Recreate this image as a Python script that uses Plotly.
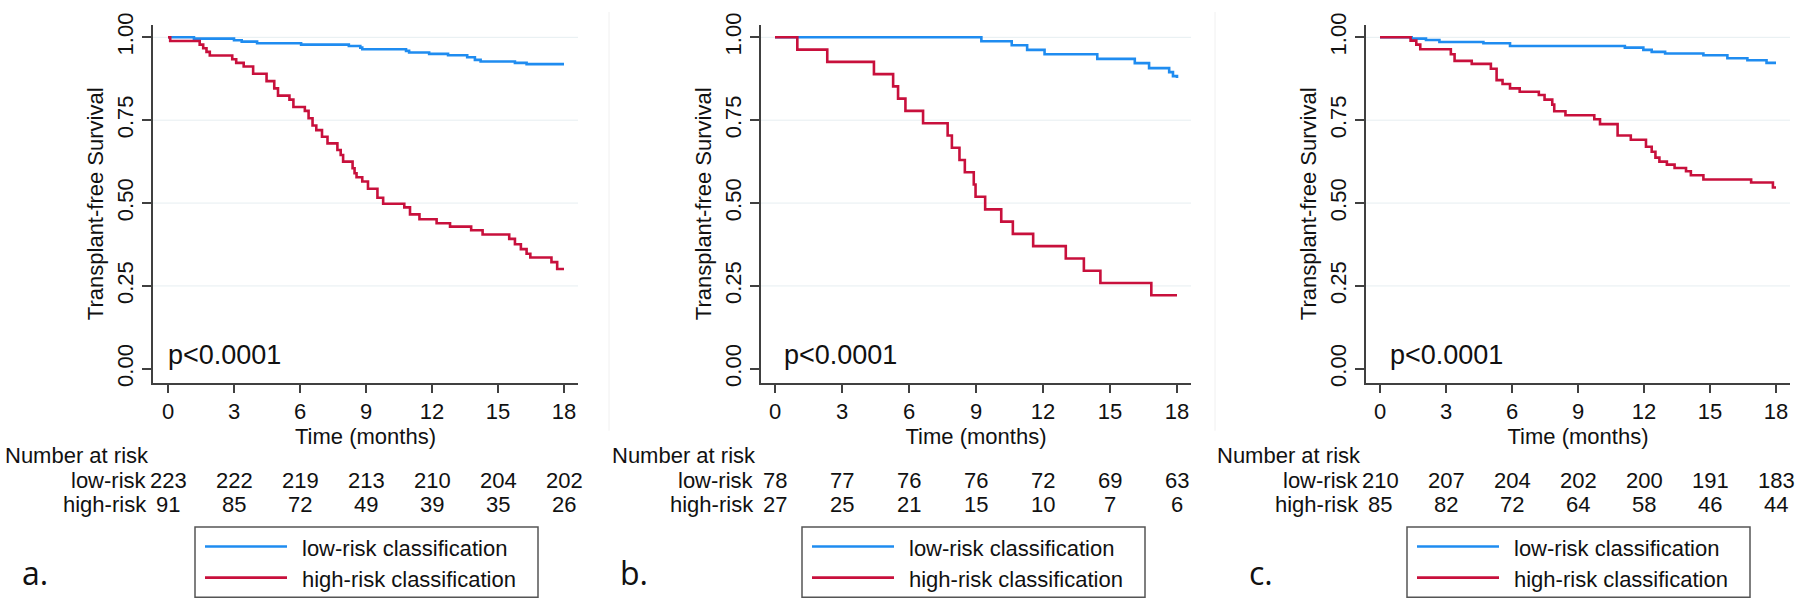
import plotly.graph_objects as go

# ---------------- data ----------------
time_ticks = [0, 3, 6, 9, 12, 15, 18]
y_ticks = [0, 0.25, 0.5, 0.75, 1.0]
y_tick_labels = ["0.00", "0.25", "0.50", "0.75", "1.00"]
grid_vals = [0.25, 0.5, 0.75, 1.0]

panel_letters = ["a.", "b.", "c."]
group_labels = ["low-risk", "high-risk"]
legend_labels = ["low-risk classification", "high-risk classification"]
p_value_text = "p<0.0001"
x_title = "Time (months)"
y_title = "Transplant-free Survival"
risk_title = "Number at risk"

# panel a
a_low_time = [0, 1.18, 3.0, 3.35, 4.05, 6.05, 8.22, 8.74, 8.83, 10.82, 10.96, 11.87, 12.73, 13.6, 13.95, 14.21, 15.77, 16.3, 18.0]
a_low_surv = [1.0, 0.996, 0.991, 0.987, 0.982, 0.978, 0.974, 0.969, 0.964, 0.959, 0.954, 0.950, 0.946, 0.940, 0.932, 0.927, 0.923, 0.919, 0.919]
a_high_time = [0, 0.1, 1.44, 1.6, 1.75, 1.9, 2.92, 3.1, 3.44, 3.87, 4.48, 4.83, 5.0, 5.52, 5.7, 6.22, 6.39, 6.57, 6.74, 7.0, 7.25, 7.7, 7.85,
               7.96, 8.39, 8.48, 8.57, 8.83, 9.09, 9.52, 9.78, 10.74, 11.0, 11.43, 12.21, 12.82, 13.78, 14.3, 15.51, 15.77, 16.04, 16.3,
               16.47, 17.43, 17.69, 18.0]
a_high_surv = [1.0, 0.989, 0.978, 0.967, 0.956, 0.945, 0.934, 0.923, 0.912, 0.890, 0.868, 0.846, 0.824, 0.812, 0.790, 0.778, 0.756,
               0.734, 0.720, 0.700, 0.680, 0.660, 0.645, 0.625, 0.605, 0.590, 0.578, 0.565, 0.543, 0.516, 0.498, 0.487, 0.466, 0.451,
               0.439, 0.429, 0.418, 0.405, 0.392, 0.376, 0.361, 0.347, 0.336, 0.322, 0.301, 0.301]
a_low_at_risk = [223, 222, 219, 213, 210, 204, 202]
a_high_at_risk = [91, 85, 72, 49, 39, 35, 26]

# panel b
b_low_time = [0, 9.24, 10.6, 11.29, 12.07, 14.43, 16.11, 16.75, 17.65, 17.82, 18.0]
b_low_surv = [1.0, 0.988, 0.976, 0.962, 0.949, 0.935, 0.922, 0.907, 0.895, 0.883, 0.877]
b_high_time = [0, 1.0, 2.34, 4.43, 5.29, 5.51, 5.84, 6.63, 7.73, 7.92, 8.26, 8.5, 8.9, 8.98, 9.41, 10.13, 10.65, 11.56, 13.02, 13.83,
               14.57, 16.85, 18.0]
b_high_surv = [1.0, 0.963, 0.926, 0.889, 0.852, 0.815, 0.778, 0.741, 0.704, 0.667, 0.630, 0.593, 0.556, 0.519, 0.481, 0.444, 0.407,
               0.370, 0.333, 0.296, 0.259, 0.222, 0.222]
b_low_at_risk = [78, 77, 76, 76, 72, 69, 63]
b_high_at_risk = [27, 25, 21, 15, 10, 7, 6]

# panel c
c_low_time = [0, 1.44, 2.09, 2.7, 4.7, 5.91, 11.13, 11.97, 12.35, 12.96, 14.7, 15.79, 16.7, 17.57, 18.0]
c_low_surv = [1.0, 0.996, 0.992, 0.986, 0.982, 0.974, 0.969, 0.962, 0.956, 0.951, 0.946, 0.937, 0.931, 0.923, 0.923]
c_high_time = [0, 1.39, 1.65, 1.83, 3.22, 3.39, 4.17, 5.04, 5.3, 5.57, 5.91, 6.35, 7.22, 7.48, 7.83, 7.92, 8.43, 9.74, 10.0, 10.8,
               11.4, 12.09, 12.35, 12.52, 12.7, 13.04, 13.39, 13.91, 14.13, 14.7, 16.87, 17.86, 18.0]
c_high_surv = [1.0, 0.990, 0.978, 0.964, 0.949, 0.929, 0.920, 0.905, 0.871, 0.859, 0.846, 0.836, 0.826, 0.812, 0.797, 0.777, 0.765,
               0.753, 0.738, 0.704, 0.691, 0.670, 0.655, 0.637, 0.625, 0.616, 0.606, 0.596, 0.584, 0.571, 0.562, 0.547, 0.547]
c_low_at_risk = [210, 207, 204, 202, 200, 191, 183]
c_high_at_risk = [85, 82, 72, 64, 58, 46, 44]

# ---------------- styling / geometry ----------------
W, H = 1800, 606
BLUE = "#1f8cf0"
RED = "#c8103c"
AXIS = "#404040"
GRID = "#e6eef1"
FONT = "Liberation Sans, Arial, sans-serif"
FS = 22


def px(x):
    return x / W


def py(y):
    return 1 - y / H


panels = [
    dict(axis=153, x0=168, x18=564, end=578, letter_x=35, p_dx=-0.1,
         low=(a_low_time, a_low_surv, a_low_at_risk), high=(a_high_time, a_high_surv, a_high_at_risk)),
    dict(axis=761, x0=775, x18=1177, end=1191, letter_x=634, p_dx=0.3,
         low=(b_low_time, b_low_surv, b_low_at_risk), high=(b_high_time, b_high_surv, b_high_at_risk)),
    dict(axis=1366, x0=1380, x18=1776, end=1790, letter_x=1261, p_dx=0.35,
         low=(c_low_time, c_low_surv, c_low_at_risk), high=(c_high_time, c_high_surv, c_high_at_risk)),
]

Y_TOP, Y_ONE, Y_ZERO, Y_AXIS = 13, 26, 366.5, 381
unit = Y_ZERO - Y_ONE
y_range = [(Y_ZERO - Y_AXIS) / unit, 1 + (Y_ONE - Y_TOP) / unit]
y_domain = [py(Y_AXIS), py(Y_TOP)]

fig = go.Figure()
annotations = []
shapes = []
txt_font = dict(family=FONT, size=FS, color="#111")

for i, p in enumerate(panels):
    n = "" if i == 0 else str(i + 1)
    xa, ya = "x" + n, "y" + n
    ppm = (p["x18"] - p["x0"]) / 18.0
    x_range = [(p["axis"] - p["x0"]) / ppm, (p["end"] - p["x0"]) / ppm]

    for (t, s, _), color, name in [(p["low"], BLUE, legend_labels[0]), (p["high"], RED, legend_labels[1])]:
        fig.add_trace(go.Scatter(x=t, y=s, mode="lines", line=dict(color=color, width=2.6, shape="hv"),
                                 name=name, showlegend=False, xaxis=xa, yaxis=ya, hoverinfo="skip"))

    fig.layout["xaxis" + n] = dict(
        domain=[px(p["axis"]), px(p["end"])], range=x_range, anchor=ya,
        tickmode="array", tickvals=time_ticks, ticktext=[str(v) for v in time_ticks],
        ticks="outside", ticklen=8, tickwidth=1.5, tickcolor=AXIS,
        showline=True, linecolor=AXIS, linewidth=1.5, showgrid=False, zeroline=False,
        tickfont=txt_font,
        title=dict(text=x_title, font=txt_font, standoff=4),
    )
    fig.layout["yaxis" + n] = dict(
        domain=y_domain, range=y_range, anchor=xa,
        tickmode="array", tickvals=y_ticks, ticktext=y_tick_labels, tickangle=-90,
        ticks="outside", ticklen=9, tickwidth=1.5, tickcolor=AXIS,
        showline=True, linecolor=AXIS, linewidth=1.5, showgrid=False, zeroline=False,
        tickfont=txt_font,
        title=dict(text=y_title, font=txt_font, standoff=4),
    )

    for g in grid_vals:
        shapes.append(dict(type="line", xref=xa + " domain", yref=ya, x0=0, x1=1, y0=g, y1=g,
                           line=dict(color=GRID, width=1), layer="below"))

    # p-value
    annotations.append(dict(x=p["p_dx"], y=0.043, xref=xa, yref=ya, text=p_value_text, showarrow=False,
                            xanchor="left", yanchor="middle", font=dict(family=FONT, size=27, color="#111")))

    # number at risk table
    annotations.append(dict(x=px(p["x0"] - 165), y=py(456), xref="paper", yref="paper", text=risk_title,
                            showarrow=False, xanchor="left", yanchor="middle", font=txt_font))
    for (lab, yy, grp) in [(group_labels[0], 481, p["low"]), (group_labels[1], 506, p["high"])]:
        annotations.append(dict(x=px(p["x0"] - 19), y=py(yy), xref="paper", yref="paper", text=lab,
                                showarrow=False, xanchor="right", yanchor="middle", font=txt_font))
        for t, v in zip(time_ticks, grp[2]):
            annotations.append(dict(x=t, y=py(yy), xref=xa, yref="paper", text=str(v), showarrow=False,
                                    xanchor="center", yanchor="middle", font=txt_font))

    # legend box
    bx0, bx1 = p["x0"] + 27, p["x0"] + 370
    shapes.append(dict(type="rect", xref="paper", yref="paper", x0=px(bx0), x1=px(bx1), y0=py(601), y1=py(529),
                       line=dict(color="#555", width=1.5), fillcolor="white"))
    for k, (yy, color) in enumerate([(549, BLUE), (581, RED)]):
        shapes.append(dict(type="line", xref="paper", yref="paper", x0=px(p["x0"] + 37), x1=px(p["x0"] + 119),
                           y0=py(yy), y1=py(yy), line=dict(color=color, width=2.6)))
        annotations.append(dict(x=px(p["x0"] + 132), y=py(yy + 2), xref="paper", yref="paper", text=legend_labels[k],
                                showarrow=False, xanchor="left", yanchor="middle", font=txt_font))

    # panel letter
    annotations.append(dict(x=px(p["letter_x"]), y=py(576), xref="paper", yref="paper", text=panel_letters[i],
                            showarrow=False, xanchor="center", yanchor="middle",
                            font=dict(family="Open Sans, sans-serif", size=32, color="#111")))

# faint separators between the original images
for sx in [609, 1215]:
    shapes.append(dict(type="line", xref="paper", yref="paper", x0=px(sx), x1=px(sx), y0=py(0), y1=py(430),
                       line=dict(color="#f0f0f0", width=1), layer="below"))

fig.update_layout(
    width=W, height=H, margin=dict(l=0, r=0, t=0, b=0),
    paper_bgcolor="white", plot_bgcolor="white",
    annotations=annotations, shapes=shapes, showlegend=False,
)

fig.write_html("out.html", config={"displayModeBar": False},
               post_script="document.body.style.margin='0';document.body.style.overflow='hidden';")
